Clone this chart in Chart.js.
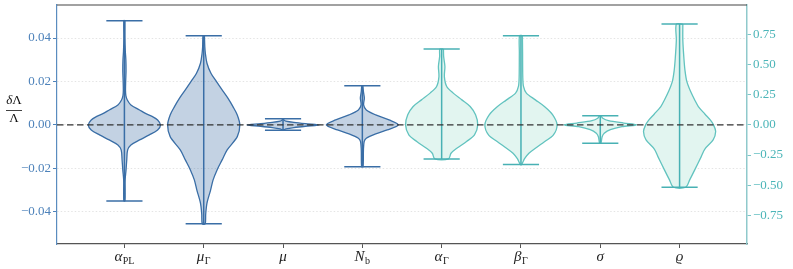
<!DOCTYPE html>
<html><head><meta charset="utf-8">
<script src="https://cdn.jsdelivr.net/npm/chart.js@4.4.0/dist/chart.umd.min.js"></script>
<style>html,body{margin:0;padding:0;background:#fff;}</style>
</head><body>
<canvas id="c" width="793" height="269"></canvas>
<script>
// ---- data ----
const labelBase = ['α', 'μ', 'μ', 'N', 'α', 'β', 'σ', 'ϱ'];
const labelSub  = ['PL', 'Γ', '', 'b', 'Γ', 'Γ', '', ''];
const positions = [0, 1, 2, 3, 4, 5, 6, 7];
const axisOf    = ['y', 'y', 'y', 'y', 'y2', 'y2', 'y2', 'y2'];
const maxVals   = [0.048, 0.041, 0.0028, 0.018, 0.628, 0.739, 0.075, 0.835];
const minVals   = [-0.035, -0.0455, -0.0024, -0.0192, -0.282, -0.329, -0.152, -0.517];
const leftTicks  = [-0.04, -0.02, 0.00, 0.02, 0.04];
const rightTicks = [-0.75, -0.50, -0.25, 0.00, 0.25, 0.50, 0.75];

// density profiles: levels (value) and relative half-width (0..1)
const lvAlphaPL = [0.048, 0.040, 0.034, 0.030, 0.025, 0.020, 0.016, 0.0135, 0.0115, 0.0092, 0.0069, 0.0054, 0.0038, 0.0023, 0, -0.0023, -0.0046, -0.0069, -0.0092, -0.0115, -0.016, -0.0207, -0.0253, -0.030, -0.035];
const wAlphaPL  = [0.015, 0.015, 0.025, 0.04, 0.045, 0.035, 0.03, 0.04, 0.08, 0.18, 0.42, 0.57, 0.78, 0.92, 1.0, 0.92, 0.69, 0.42, 0.18, 0.09, 0.065, 0.045, 0.02, 0.02, 0.015];
const lvMuG = [0.041, 0.036, 0.033, 0.0284, 0.0238, 0.020, 0.0161, 0.0123, 0.0084, 0.0046, 0, -0.0054, -0.0115, -0.0161, -0.0207, -0.0253, -0.030, -0.036, -0.041, -0.0455];
const wMuG  = [0.02, 0.03, 0.045, 0.09, 0.2, 0.35, 0.51, 0.67, 0.81, 0.93, 1.0, 0.93, 0.65, 0.51, 0.37, 0.26, 0.19, 0.09, 0.055, 0.04];
const lvMu = [0.0028, 0.0022, 0.0018, 0.0012, 0.0006, 0, -0.0006, -0.0012, -0.0018, -0.0022, -0.0024];
const wMu  = [0.01, 0.03, 0.08, 0.3, 0.62, 1.0, 0.62, 0.3, 0.08, 0.03, 0.01];
const lvNb = [0.018, 0.0153, 0.0123, 0.0092, 0.0069, 0.0046, 0.0023, 0, -0.0023, -0.0041, -0.0061, -0.0077, -0.0115, -0.0192];
const wNb  = [0.015, 0.03, 0.055, 0.035, 0.11, 0.37, 0.74, 1.0, 0.69, 0.37, 0.11, 0.05, 0.03, 0.02];
const lvAlphaG = [0.628, 0.567, 0.484, 0.40, 0.318, 0.263, 0.207, 0.152, 0.083, 0, -0.083, -0.138, -0.194, -0.235, -0.282];
const wAlphaG  = [0.05, 0.055, 0.09, 0.075, 0.14, 0.32, 0.56, 0.79, 0.94, 1.0, 0.91, 0.69, 0.42, 0.26, 0.19];
const lvBetaG = [0.739, 0.60, 0.40, 0.318, 0.263, 0.207, 0.152, 0.083, 0, -0.083, -0.138, -0.194, -0.235, -0.28, -0.31, -0.329];
const wBetaG  = [0.04, 0.045, 0.05, 0.07, 0.15, 0.4, 0.65, 0.88, 1.0, 0.9, 0.66, 0.4, 0.22, 0.1, 0.05, 0.02];
const lvSigma = [0.075, 0.055, 0.035, 0.015, 0, -0.015, -0.04, -0.07, -0.10, -0.152];
const wSigma  = [0.02, 0.07, 0.23, 0.65, 1.0, 0.6, 0.28, 0.11, 0.05, 0.02];
const lvRho = [0.835, 0.70, 0.55, 0.45, 0.36, 0.28, 0.20, 0.152, 0.09, 0.041, 0, -0.055, -0.124, -0.20, -0.263, -0.373, -0.456, -0.517];
const wRho  = [0.09, 0.09, 0.12, 0.15, 0.2, 0.3, 0.43, 0.52, 0.7, 0.85, 0.94, 1.0, 0.93, 0.7, 0.6, 0.42, 0.28, 0.17];

const levels = [lvAlphaPL, lvMuG, lvMu, lvNb, lvAlphaG, lvBetaG, lvSigma, lvRho];
const widths = [wAlphaPL, wMuG, wMu, wNb, wAlphaG, wBetaG, wSigma, wRho];

// ---- styling ----
const X_MIN = -0.85, X_MAX = 7.85;
const HALF_W = 0.455, CAP_W = 0.228;
const blueEdge = '#3a6ea6', blueFill = 'rgba(60,110,165,0.31)', blueBar = '#3a6ea6';
const tealEdge = '#62c3bf', tealFill = '#e2f5f0', tealBar = '#48b1b4';
const isBlue = i => axisOf[i] === 'y';

const datasets = [];
// zero reference line (drawn on top)
datasets.push({type:'line', data:[{x:X_MIN,y:0},{x:X_MAX,y:0}], yAxisID:'y', borderColor:'#333', borderWidth:1.2, borderDash:[6.5,3.5], pointRadius:0, fill:false, order:0});
positions.forEach((c, i) => {
  const bar = isBlue(i) ? blueBar : tealBar;
  const segs = [
    [{x:c - CAP_W, y:maxVals[i]}, {x:c + CAP_W, y:maxVals[i]}],
    [{x:c - CAP_W, y:minVals[i]}, {x:c + CAP_W, y:minVals[i]}],
    [{x:c, y:maxVals[i]}, {x:c, y:minVals[i]}]
  ];
  segs.forEach(s => datasets.push({type:'line', data:s, yAxisID:axisOf[i], borderColor:bar, borderWidth:1.5, pointRadius:0, fill:false, order:1}));
  const lv = levels[i], w = widths[i];
  const pts = [];
  for (let k = 0; k < lv.length; k++) pts.push({x: c + w[k]*HALF_W, y: lv[k]});
  for (let k = lv.length - 1; k >= 0; k--) pts.push({x: c - w[k]*HALF_W, y: lv[k]});
  pts.push(pts[0]);
  datasets.push({type:'line', data:pts, yAxisID:axisOf[i], borderColor:isBlue(i)?blueEdge:tealEdge, backgroundColor:isBlue(i)?blueFill:tealFill,
    borderWidth:1.3, pointRadius:0, fill:'shape', tension:0.3, order:2});
});

const fmt = v => (Math.abs(v) < 1e-9 ? '0.00' : (v < 0 ? '\u2212' : '') + Math.abs(v).toFixed(2));
const serif = "'Liberation Serif', 'DejaVu Serif', serif";
const noPad = s => { s.paddingTop = 0; s.paddingBottom = 0; s.paddingLeft = 0; s.paddingRight = 0; };

const decor = {
  id: 'decor',
  afterDraw(chart) {
    const {ctx, chartArea, scales} = chart;
    ctx.save();
    // top spine
    ctx.strokeStyle = '#444'; ctx.lineWidth = 1.2;
    ctx.beginPath(); ctx.moveTo(chartArea.left, chartArea.top); ctx.lineTo(chartArea.right, chartArea.top); ctx.stroke();
    // category labels with subscripts
    ctx.fillStyle = '#222'; ctx.textBaseline = 'alphabetic';
    positions.forEach((p, i) => {
      const x = scales.x.getPixelForValue(p);
      ctx.font = 'italic 15px ' + serif;
      const wb = ctx.measureText(labelBase[i]).width;
      ctx.font = '10px ' + serif;
      const ws = labelSub[i] ? ctx.measureText(labelSub[i]).width + 0.5 : 0;
      const x0 = x - (wb + ws) / 2;
      ctx.font = 'italic 15px ' + serif;
      ctx.textAlign = 'left';
      ctx.fillText(labelBase[i], x0, 261);
      if (labelSub[i]) { ctx.font = '10px ' + serif; ctx.fillText(labelSub[i], x0 + wb + 0.5, 264); }
    });
    // y axis title: fraction δΛ / Λ
    const cx = 14;
    ctx.fillStyle = '#111';
    ctx.font = 'italic 13px ' + serif;
    const wd = ctx.measureText('δ').width;
    ctx.font = '13px ' + serif;
    const wl = ctx.measureText('Λ').width;
    const sx = cx - (wd + wl) / 2;
    ctx.font = 'italic 13px ' + serif; ctx.fillText('δ', sx, 104);
    ctx.font = '13px ' + serif; ctx.fillText('Λ', sx + wd, 104);
    ctx.strokeStyle = '#111'; ctx.lineWidth = 0.8;
    ctx.beginPath(); ctx.moveTo(6, 110.5); ctx.lineTo(22, 110.5); ctx.stroke();
    ctx.textAlign = 'center'; ctx.fillText('Λ', cx, 122);
    ctx.restore();
  }
};

new Chart(document.getElementById('c'), {
  type: 'scatter',
  data: { datasets },
  options: {
    responsive: false, animation: false, events: [],
    layout: { padding: { top: 5, left: 0, right: 0, bottom: 0 } },
    plugins: { legend: { display: false }, tooltip: { enabled: false } },
    scales: {
      x: {
        type: 'linear', position: 'bottom', min: X_MIN, max: X_MAX,
        afterBuildTicks: s => { s.ticks = positions.map(v => ({ value: v })); },
        afterFit: s => { s.height = 25; noPad(s); },
        ticks: { display: false },
        grid: { drawOnChartArea: false, drawTicks: true, tickLength: 4, tickColor: '#555', tickWidth: 1 },
        border: { color: '#555', width: 1.2 }
      },
      y: {
        type: 'linear', position: 'left', min: -0.0548, max: 0.0552,
        afterBuildTicks: s => { s.ticks = leftTicks.map(v => ({ value: v })); },
        afterFit: s => { s.width = 57; noPad(s); },
        ticks: { callback: v => fmt(v), color: '#4d82ba', font: { family: serif, size: 13 }, padding: 2 },
        grid: { color: '#dddddd', lineWidth: 0.8, tickColor: '#4d82ba', tickLength: 4, tickWidth: 1 },
        border: { color: '#5a8cbf', width: 1.2, dash: [1.5, 2] }
      },
      y2: {
        type: 'linear', position: 'right', min: -0.987, max: 0.993,
        afterBuildTicks: s => { s.ticks = rightTicks.map(v => ({ value: v })); },
        afterFit: s => { s.width = 46; noPad(s); },
        ticks: { callback: v => fmt(v), color: '#4bb5b8', font: { family: serif, size: 13 }, padding: 2 },
        grid: { drawOnChartArea: false, tickColor: '#7fc6c8', tickLength: 4, tickWidth: 1 },
        border: { color: '#8fc9cc', width: 1.5 }
      }
    }
  },
  plugins: [decor]
});
</script>
</body></html>
